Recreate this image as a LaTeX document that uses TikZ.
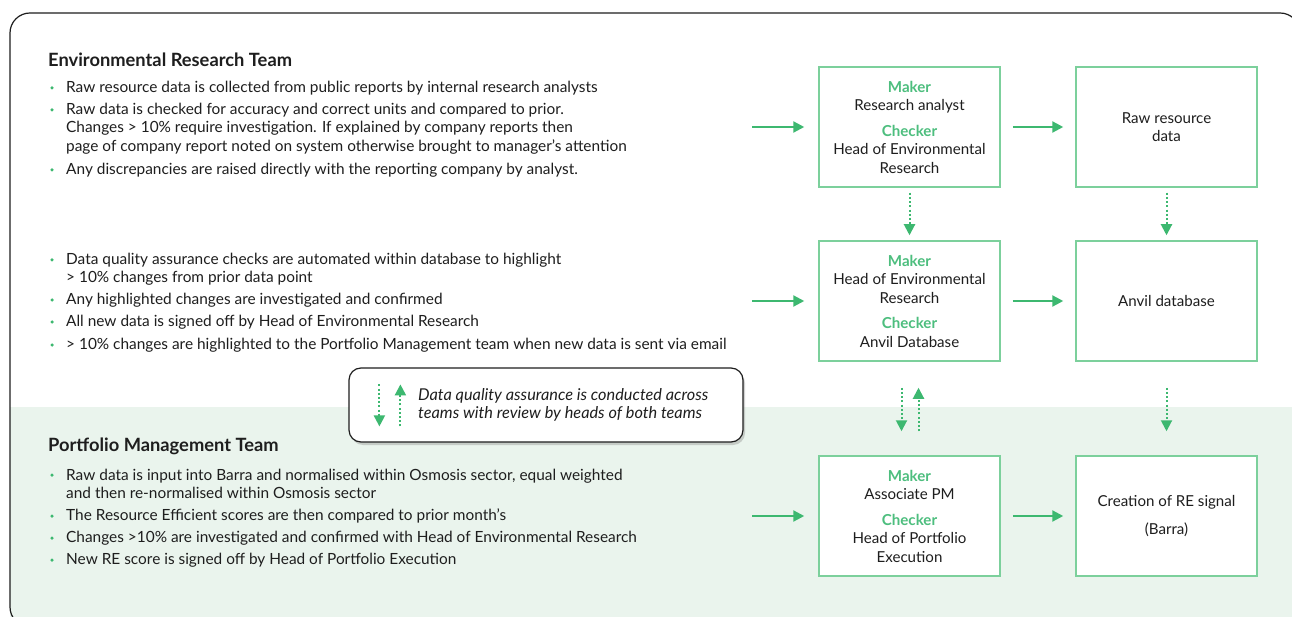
\documentclass[tikz,border=0pt]{standalone}
\usepackage{fontspec}
\setmainfont{Lato}
\usetikzlibrary{arrows.meta,shadows,calc}
\definecolor{gtext}{RGB}{77,190,126}
\definecolor{garr}{RGB}{61,184,112}
\definecolor{gbox}{RGB}{124,208,156}
\definecolor{band}{RGB}{234,244,237}
\definecolor{ink}{RGB}{30,30,30}
\begin{document}
\begin{tikzpicture}[x=1pt,y=-1pt,
  txt/.style={anchor=west,inner sep=0pt,align=left,font=\fontsize{15.4}{18.5}\selectfont,text=ink},
  head/.style={anchor=west,inner sep=0pt,font=\fontsize{18.3}{21}\selectfont\bfseries,text=ink},
  bul/.style={circle,fill=garr,inner sep=0pt,minimum size=3.5pt},
  stepbox/.style={draw=gbox,line width=1.5pt,fill=white,minimum width=181pt,minimum height=120pt,align=center,inner sep=0pt,font=\fontsize{15.1}{18.5}\selectfont,text=ink},
  garrow/.style={draw=garr,line width=2.2pt,-{Triangle[length=11pt,width=11pt]}},
  gdot/.style={draw=garr,line width=2pt,dash pattern=on 2pt off 2.2pt,-{Triangle[length=11pt,width=11pt]}},
  legend/.style={draw=ink,line width=1.2pt,rounded corners=12pt,fill=white,minimum width=394pt,minimum height=74pt,inner sep=0pt,drop shadow={shadow xshift=2pt,shadow yshift=-3pt,opacity=0.35}},
  frame/.style={draw=ink,line width=1.2pt,rounded corners=20pt}
]
\useasboundingbox (0,0) rectangle (1292,617);
\fill[white] (0,0) rectangle (1292,617);
\fill[band] (10,407) rectangle (1292,630);
\draw[frame] (10,13) rectangle (1300,627);

% headings
\node[head] (h1) at (48,60) {Environmental Research Team};
\node[head] (h2) at (48,446) {Portfolio Management Team};

% group 1
\node[bul] (p1) at (52,88) {};
\node[txt] (t1) at (66,88) {Raw resource data is collected from public reports by internal research analysts};
\node[bul] (p2) at (52,110) {};
\node[txt] (t2) at (66,128.5) {Raw data is checked for accuracy and correct units and compared to prior.\\Changes > 10\% require investigation. If explained by company reports then\\page of company report noted on system otherwise brought to manager's attention};
\node[bul] (p3) at (52,170) {};
\node[txt] (t3) at (66,170) {Any discrepancies are raised directly with the reporting company by analyst.};

% group 2
\node[bul] (q1) at (52,260) {};
\node[txt] (u1) at (66,269) {Data quality assurance checks are automated within database to highlight\\> 10\% changes from prior data point};
\node[bul] (q2) at (52,300) {};
\node[txt] (u2) at (66,300) {Any highlighted changes are investigated and confirmed};
\node[bul] (q3) at (52,322) {};
\node[txt] (u3) at (66,322) {All new data is signed off by Head of Environmental Research};
\node[bul] (q4) at (52,345) {};
\node[txt] (u4) at (66,345) {> 10\% changes are highlighted to the Portfolio Management team when new data is sent via email};

% group 3
\node[bul] (r1) at (52,475) {};
\node[txt] (v1) at (66,484) {Raw data is input into Barra and normalised within Osmosis sector, equal weighted\\and then re-normalised within Osmosis sector};
\node[bul] (r2) at (52,516) {};
\node[txt] (v2) at (66,516) {The Resource Efficient scores are then compared to prior month's};
\node[bul] (r3) at (52,538) {};
\node[txt] (v3) at (66,538) {Changes >10\% are investigated and confirmed with Head of Environmental Research};
\node[bul] (r4) at (52,560) {};
\node[txt] (v4) at (66,560) {New RE score is signed off by Head of Portfolio Execution};

% boxes
\node[stepbox] (m1) at (909.5,127) {{\color{gtext}\bfseries Maker}\\Research analyst\\[7pt]{\color{gtext}\bfseries Checker}\\Head of Environmental\\Research};
\node[stepbox] (raw) at (1166.5,127) {Raw resource\\data};
\node[stepbox] (m2) at (909.5,301) {{\color{gtext}\bfseries Maker}\\Head of Environmental\\Research\\[7pt]{\color{gtext}\bfseries Checker}\\Anvil Database};
\node[stepbox] (anvil) at (1166.5,301) {Anvil database};
\node[stepbox] (m3) at (909.5,516) {{\color{gtext}\bfseries Maker}\\Associate PM\\[7pt]{\color{gtext}\bfseries Checker}\\Head of Portfolio\\Execution};
\node[stepbox] (re) at (1166.5,516) {Creation of RE signal\\[9pt](Barra)};

% inputs
\coordinate (i1) at (752,127);
\coordinate (i2) at (752,301);
\coordinate (i3) at (752,516);
\draw[garrow,shorten >=14pt] (i1) -- (m1.west);
\draw[garrow,shorten >=14pt] (i2) -- (m2.west);
\draw[garrow,shorten >=14pt] (i3) -- (m3.west);
\draw[garrow,shorten <=12pt,shorten >=12pt] (m1.east) -- (raw.west);
\draw[garrow,shorten <=12pt,shorten >=12pt] (m2.east) -- (anvil.west);
\draw[garrow,shorten <=12pt,shorten >=12pt] (m3.east) -- (re.west);

% dotted verticals
\draw[gdot,shorten <=5pt,shorten >=5pt] (m1.south) -- (m2.north);
\draw[gdot,shorten <=5pt,shorten >=5pt] (raw.south) -- (anvil.north);
\draw[gdot,shorten <=26pt,shorten >=24pt] (anvil.south) -- (re.north);
\draw[gdot] ($(m2.south)+(-8,26)$) -- ($(m3.north)+(-8,-24)$);
\draw[gdot] ($(m3.north)+(9,-24)$) -- ($(m2.south)+(9,26)$);

% legend
\node[legend] (lg) at (546,405) {};
\node[txt,font=\fontsize{16.3}{18}\selectfont\itshape] (lgt) at (418,405) {Data quality assurance is conducted across\\teams with review by heads of both teams};
\draw[gdot] ($(lg.north west)+(31,17)$) -- ($(lg.north west)+(31,59)$);
\draw[gdot] ($(lg.north west)+(52,59)$) -- ($(lg.north west)+(52,17)$);
\end{tikzpicture}
\end{document}
